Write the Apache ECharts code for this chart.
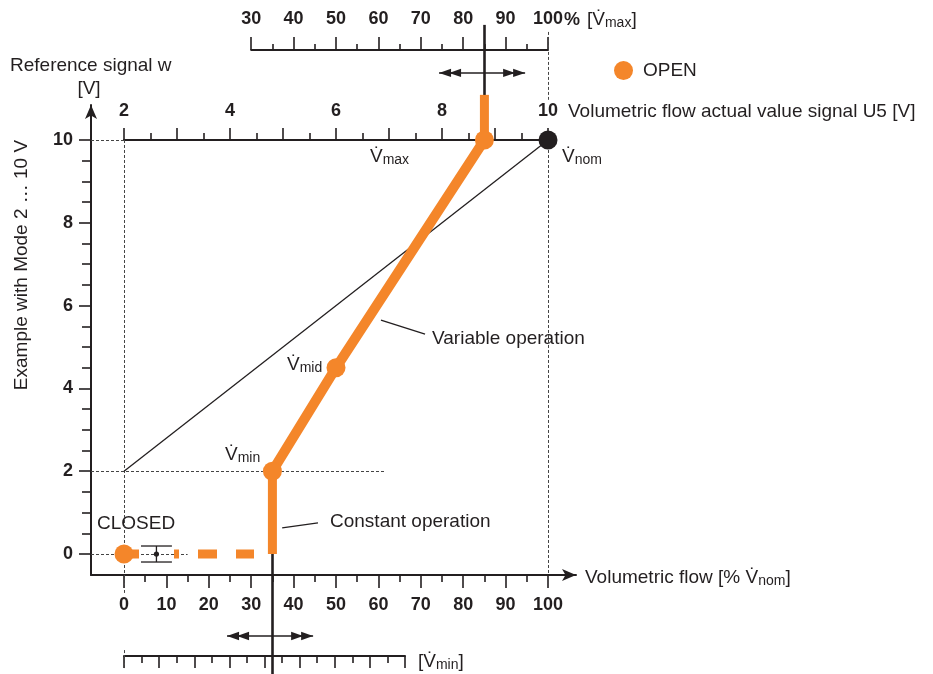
<!DOCTYPE html>
<html><head><meta charset="utf-8">
<script src="https://cdn.jsdelivr.net/npm/echarts@6/dist/echarts.min.js"></script>
<style>html,body{margin:0;padding:0;background:#fff}#c{width:933px;height:674px}</style>
</head><body><div id="c"></div>
<script>
// ---------------- data ----------------
const flowTicks = [0,10,20,30,40,50,60,70,80,90,100];          // % V̇nom (labelled)
const flowMinorTicks = [5,15,25,35,45,55,65,75,85,95];
const signalTicks = [0,2,4,6,8,10];                             // reference signal w [V]
const signalMinorTicks = [0.5,1,1.5,2.5,3,3.5,4.5,5,5.5,6.5,7,7.5,8.5,9,9.5];
const u5Labels = [2,4,6,8,10];                                  // actual value signal U5 [V]
const u5Range = [2,10];
const vmaxScaleRange = [30,100];                                // % V̇max scale
const vminScaleRange = [0,16];                                  // V̇min scale divisions
const closedOperation = [[0,0],[35,0]];
const constantOperation = [[35,0],[35,2]];
const variableOperation = [[35,2],[50,4.5],[85,10]];
const openExtension = [[85,10],[85,11.09]];
const vmaxSettingLine = [[85,10],[85,12.78]];
const vminSettingLine = [[35,0],[35,-2.9]];
const characteristicLine = [[0,2],[100,10]];
const operatingPoints = [[0,0],[35,2],[50,4.5],[85,10]];       // CLOSED, V̇min, V̇mid, V̇max
const nominalPoint = [[100,10]];
const adjustArrows = [[74.3,94.6,11.62],[24.3,44.6,-1.98]];     // from, to, level
const closedBracket = [[4,11.3,0]];
const refLines = [
  [[-7.783,10],[0,10]], [[-7.783,2],[61.5,2]], [[-7.783,0],[15,0]],
  [[0,10],[0,-0.94]], [[0,-2.32],[0,-2.8]],
  [[100,12.61],[100,10.97]], [[100,10],[100,-0.5]]
];
const leaderLines = [[[60.6,5.65],[71.0,5.31]], [[37.3,0.63],[45.75,0.75]]];

// ---------------- chart ----------------
const X_MIN = -7.783, X_MAX = 106.6, Y_MIN = -0.507, Y_MAX = 10.845;
const ORANGE = '#f4862a', INK = '#231f20';
const FONT = "'Liberation Sans', Arial, Helvetica, sans-serif";
const chart = echarts.init(document.getElementById('c'), null, {renderer: 'canvas'});

const mainRect = {left: 91, top: 105, width: 485, height: 470};
const boldLabel = {color: INK, fontFamily: FONT, fontWeight: 'bold', fontSize: 18};

function hiddenY(i){ return {gridIndex: i, type: 'value', show: false, min: 0, max: 1}; }

function arrowItem(params, api){
  const y = api.value(2);
  const p1 = api.coord([api.value(0), y]);
  const p2 = api.coord([api.value(1), y]);
  const L = 12, H = 4.2, G = 10, yy = p1[1];
  const tri = (tip, dir) => ({type: 'polygon', shape: {points: [[tip, yy],[tip + dir*L, yy - H],[tip + dir*L, yy + H]]}, style: {fill: INK}});
  return {type: 'group', children: [
    {type: 'line', shape: {x1: p1[0], y1: yy, x2: p2[0], y2: yy}, style: {stroke: INK, lineWidth: 1.5}},
    tri(p1[0], 1), tri(p1[0] + G, 1), tri(p2[0], -1), tri(p2[0] - G, -1)
  ]};
}
function bracketItem(params, api){
  const y = api.value(2);
  const p1 = api.coord([api.value(0), y]);
  const p2 = api.coord([api.value(1), y]);
  const cx = (p1[0] + p2[0]) / 2, cy = p1[1], h = 8;
  const st = {stroke: INK, lineWidth: 1.3};
  return {type: 'group', children: [
    {type: 'line', shape: {x1: p1[0], y1: cy - h, x2: p2[0], y2: cy - h}, style: st},
    {type: 'line', shape: {x1: p1[0], y1: cy + h, x2: p2[0], y2: cy + h}, style: st},
    {type: 'line', shape: {x1: cx, y1: cy - h, x2: cx, y2: cy + h}, style: st},
    {type: 'circle', shape: {cx: cx, cy: cy, r: 2.6}, style: {fill: INK}}
  ]};
}

function vdot(sub, size, subSize){
  return {
    text: '{v|V\u0307}{s|' + sub + '}',
    rich: {
      v: {fontSize: size, fontFamily: FONT, fill: INK, lineHeight: size + 2},
      s: {fontSize: subSize, fontFamily: FONT, fill: INK, verticalAlign: 'bottom', lineHeight: subSize, padding: [8,0,0,0]}
    }
  };
}
const T = (x, y, text, extra) => ({type: 'text', x: x, y: y, silent: true,
  style: Object.assign({text: text, fontFamily: FONT, fontSize: 19, fill: INK, verticalAlign: 'middle'}, extra || {})});
const R = (x, y, style) => ({type: 'text', x: x, y: y, silent: true, style: Object.assign({verticalAlign: 'middle'}, style)});
const bracketRich = {
  t: {fontSize: 19, fontFamily: FONT, fill: INK, lineHeight: 21},
  s: {fontSize: 14, fontFamily: FONT, fill: INK, verticalAlign: 'bottom', lineHeight: 14, padding: [8,0,0,0]}
};

const option = {
  animation: false,
  backgroundColor: '#fff',
  legend: {
    data: ['OPEN'], left: 609, top: 56, itemWidth: 19, itemHeight: 19, icon: 'circle',
    itemStyle: {opacity: 1},
    textStyle: {fontFamily: FONT, fontSize: 19, color: INK, padding: [0,0,0,5]}, selectedMode: false
  },
  grid: [
    mainRect,
    mainRect,
    {left: 124, width: 424, top: 100, height: 40},
    {left: 251.2, width: 296.8, top: 10, height: 40},
    {left: 124, width: 281, top: 656, height: 10}
  ],
  xAxis: [
    {gridIndex: 0, type: 'value', min: X_MIN, max: X_MAX,
      axisLine: {onZero: false, symbol: ['none','arrow'], symbolSize: [9,14], lineStyle: {color: INK, width: 2}},
      axisTick: {customValues: flowTicks, length: 13, lineStyle: {color: INK, width: 1.6}},
      axisLabel: Object.assign({customValues: flowTicks, margin: 21}, boldLabel),
      splitLine: {show: false}},
    {gridIndex: 1, type: 'value', min: X_MIN, max: X_MAX,
      axisLine: {show: false, onZero: false},
      axisTick: {customValues: flowMinorTicks, length: 7, lineStyle: {color: INK, width: 1.6}},
      axisLabel: {show: false}, splitLine: {show: false}},
    {gridIndex: 2, type: 'value', position: 'bottom', min: u5Range[0], max: u5Range[1], interval: 1,
      axisLine: {onZero: false, lineStyle: {color: INK, width: 2}},
      axisTick: {inside: true, length: 12, lineStyle: {color: INK, width: 1.6}},
      minorTick: {show: true, splitNumber: 2, length: 7, lineStyle: {color: INK, width: 1.6}},
      axisLabel: Object.assign({inside: true, customValues: u5Labels, margin: 20}, boldLabel),
      splitLine: {show: false}},
    {gridIndex: 3, type: 'value', position: 'bottom', min: vmaxScaleRange[0], max: vmaxScaleRange[1], interval: 10,
      axisLine: {onZero: false, lineStyle: {color: INK, width: 2}},
      axisTick: {inside: true, length: 13, lineStyle: {color: INK, width: 1.6}},
      minorTick: {show: true, splitNumber: 2, length: 6, lineStyle: {color: INK, width: 1.6}},
      axisLabel: Object.assign({inside: true, margin: 22}, boldLabel),
      splitLine: {show: false}},
    {gridIndex: 4, type: 'value', position: 'top', min: vminScaleRange[0], max: vminScaleRange[1], interval: 2,
      axisLine: {onZero: false, lineStyle: {color: INK, width: 2}},
      axisTick: {inside: true, length: 12, lineStyle: {color: INK, width: 1.6}},
      minorTick: {show: true, splitNumber: 2, length: 7, lineStyle: {color: INK, width: 1.6}},
      axisLabel: {show: false}, splitLine: {show: false}}
  ],
  yAxis: [
    {gridIndex: 0, type: 'value', min: Y_MIN, max: Y_MAX,
      axisLine: {onZero: false, symbol: ['none','arrow'], symbolSize: [9,14], lineStyle: {color: INK, width: 2}},
      axisTick: {customValues: signalTicks, length: 12, lineStyle: {color: INK, width: 1.6}},
      axisLabel: Object.assign({customValues: signalTicks, margin: 18}, boldLabel),
      splitLine: {show: false}},
    {gridIndex: 1, type: 'value', min: Y_MIN, max: Y_MAX,
      axisLine: {show: false, onZero: false},
      axisTick: {customValues: signalMinorTicks, length: 9, lineStyle: {color: INK, width: 1.6}},
      axisLabel: {show: false}, splitLine: {show: false}},
    hiddenY(2), hiddenY(3), hiddenY(4)
  ],
  series: [
    {type: 'lines', coordinateSystem: 'cartesian2d', clip: false, silent: true, z: 1,
      lineStyle: {color: '#444', width: 1, type: [3,2], opacity: 1},
      data: refLines.map(c => ({coords: c}))},
    {type: 'lines', coordinateSystem: 'cartesian2d', clip: false, silent: true, z: 2,
      lineStyle: {color: INK, width: 1.3, opacity: 1},
      data: [characteristicLine].concat(leaderLines).map(c => ({coords: c}))},
    {type: 'lines', coordinateSystem: 'cartesian2d', clip: false, silent: true, z: 2,
      lineStyle: {color: INK, width: 2.6, opacity: 1},
      data: [vmaxSettingLine, vminSettingLine].map(c => ({coords: c}))},
    {type: 'line', clip: false, silent: true, z: 3, symbol: 'none', data: closedOperation,
      lineStyle: {color: ORANGE, width: 9, type: [15,35,5,19,19,19,18,20], cap: 'butt'}},
    {type: 'line', clip: false, silent: true, z: 3, symbol: 'none', data: constantOperation,
      lineStyle: {color: ORANGE, width: 9, cap: 'butt'}},
    {type: 'line', clip: false, silent: true, z: 3, symbol: 'none', data: openExtension,
      lineStyle: {color: ORANGE, width: 9, cap: 'butt'}},
    {type: 'line', clip: false, silent: true, z: 3, symbol: 'none', data: variableOperation,
      lineStyle: {color: ORANGE, width: 10, cap: 'butt', join: 'round'}},
    {name: 'OPEN', type: 'scatter', clip: false, silent: true, z: 4, symbol: 'circle', symbolSize: 19,
      itemStyle: {color: ORANGE, opacity: 1}, data: operatingPoints},
    {type: 'scatter', clip: false, silent: true, z: 4, symbol: 'circle', symbolSize: 19,
      itemStyle: {color: INK, opacity: 1}, data: nominalPoint},
    {type: 'custom', silent: true, z: 4, renderItem: arrowItem, data: adjustArrows},
    {type: 'custom', silent: true, z: 4, renderItem: bracketItem, data: closedBracket}
  ],
  graphic: [
    T(10, 66, 'Reference signal w'),
    T(89, 89, '[V]', {align: 'center'}),
    {type: 'text', x: 22, y: 265, rotation: Math.PI / 2, silent: true,
      style: {text: 'Example with Mode 2 \u2026 10 V', fontFamily: FONT, fontSize: 19, fill: INK, align: 'center', verticalAlign: 'middle'}},
    T(568, 112, 'Volumetric flow actual value signal U5 [V]'),
    T(564, 20, '%', {fontWeight: 'bold', fontSize: 18}),
    R(587, 20, {text: '{t|[V\u0307}{s|max}{t|]}', rich: bracketRich}),
    R(562, 157, vdot('nom', 19, 14)),
    R(370, 157, vdot('max', 19, 14)),
    R(287, 365, vdot('mid', 19, 14)),
    R(225, 455, vdot('min', 19, 14)),
    T(97, 524, 'CLOSED'),
    T(330, 522, 'Constant operation'),
    T(432, 339, 'Variable operation'),
    R(585, 578, {text: '{t|Volumetric flow [% V\u0307}{s|nom}{t|]}', rich: bracketRich}),
    R(418, 662, {text: '{t|[V\u0307}{s|min}{t|]}', rich: bracketRich})
  ]
};
chart.setOption(option);
</script>
</body></html>
